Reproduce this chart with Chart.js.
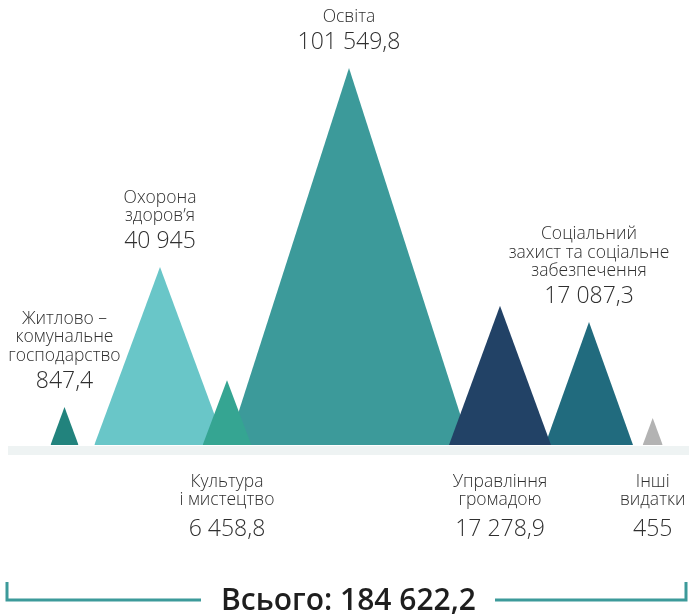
<!DOCTYPE html>
<html lang="uk">
<head>
<meta charset="UTF-8">
<title>Видатки бюджету</title>
<script src="https://cdn.jsdelivr.net/npm/chart.js@4.4.1/dist/chart.umd.min.js"></script>
<style>
  html, body { margin: 0; padding: 0; background: #fff; }
  #wrap { width: 689px; height: 614px; position: relative; }
</style>
</head>
<body>
<div id="wrap"><canvas id="peaks"></canvas></div>
<script>
// categories, left to right
const names = [
  ['Житлово –', 'комунальне', 'господарство'],
  ['Охорона', 'здоров’я'],
  ['Культура', 'і мистецтво'],
  ['Освіта'],
  ['Управління', 'громадою'],
  ['Соціальний', 'захист та соціальне', 'забезпечення'],
  ['Інші', 'видатки']
];
const amounts = [847.4, 40945, 6458.8, 101549.8, 17278.9, 17087.3, 455];
const total = 184622.2;
// peak height of each triangle (Освіта = 100)
const peaks = [10.1, 47.2, 17.2, 100, 36.9, 32.6, 7.2];
// where each triangle stands on the x axis and how wide its half-base is
const centres = [64.5, 160, 227, 349, 500, 589, 652.7];
const halfBase = [14, 65.7, 24.3, 121, 51, 44, 10];
const labelSide = ['top', 'top', 'bottom', 'top', 'bottom', 'top', 'bottom'];
const colours = ['#22837d', '#69c6c8', '#35a592', '#3c9a9a', '#224266', '#216b7e', '#b3b3b3'];
// lower = drawn on top
const zOrder = [1, 5, 2, 7, 3, 6, 1];

function fmt(v) {
  const parts = v.toFixed(1).split('.');
  let int = parts[0].replace(/\B(?=(\d{3})+(?!\d))/g, ' ');
  return parts[1] === '0' ? int : int + ',' + parts[1];
}

const datasets = names.map((n, i) => ({
  label: n.join(' '),
  data: [
    { x: centres[i] - halfBase[i], y: 0 },
    { x: centres[i], y: peaks[i] },
    { x: centres[i] + halfBase[i], y: 0 }
  ],
  backgroundColor: colours[i],
  borderWidth: 0,
  pointRadius: 0,
  tension: 0,
  fill: 'origin',
  order: zOrder[i]
}));

const FONT = '"Open Sans", "Noto Sans", sans-serif';
const TEXT = '#2f2f2f';

const decor = {
  id: 'decor',
  beforeDatasetsDraw(chart) {
    const { ctx, chartArea, scales } = chart;
    const y0 = scales.y.getPixelForValue(0);
    ctx.save();
    ctx.fillStyle = '#eef3f3';
    ctx.fillRect(chartArea.left + 8, y0 + 1, chartArea.right - chartArea.left - 8, 9);
    ctx.restore();
  },
  afterDatasetsDraw(chart) {
    const { ctx, chartArea, scales } = chart;
    const y0 = scales.y.getPixelForValue(0);
    ctx.save();
    ctx.fillStyle = TEXT;
    ctx.textAlign = 'center';
    ctx.textBaseline = 'alphabetic';
    names.forEach((lines, i) => {
      const x = scales.x.getPixelForValue(centres[i]);
      if (labelSide[i] === 'top') {
        const apex = scales.y.getPixelForValue(peaks[i]);
        const numBase = apex - 19;
        ctx.font = '300 23px ' + FONT;
        ctx.fillText(fmt(amounts[i]), x, numBase);
        ctx.font = '300 17.5px ' + FONT;
        let b = numBase - 27;
        for (let k = lines.length - 1; k >= 0; k--) {
          ctx.fillText(lines[k], x, b);
          b -= 18.5;
        }
      } else {
        let b = y0 + 42;
        ctx.font = '300 17.5px ' + FONT;
        lines.forEach(l => { ctx.fillText(l, x, b); b += 17.5; });
        ctx.font = '300 23px ' + FONT;
        ctx.fillText(fmt(amounts[i]), x, b - 17.5 + 31);
      }
    });

    // total with bracket
    const left = chartArea.left + 7, right = chartArea.right - 3;
    const lineY = 600, topY = 582;
    const mid = (chartArea.left + chartArea.right) / 2 + 4;
    ctx.font = '600 30px ' + FONT;
    ctx.fillStyle = '#1e1e1e';
    const label = 'Всього: ' + fmt(total);
    const w = ctx.measureText(label).width;
    ctx.fillText(label, mid, 610);
    ctx.strokeStyle = '#3c9a9a';
    ctx.lineWidth = 3;
    ctx.beginPath();
    ctx.moveTo(left, topY); ctx.lineTo(left, lineY); ctx.lineTo(mid - w / 2 - 20, lineY);
    ctx.moveTo(mid + w / 2 + 19, lineY); ctx.lineTo(right, lineY); ctx.lineTo(right, topY);
    ctx.stroke();
    ctx.restore();
  }
};

new Chart(document.getElementById('peaks'), {
  type: 'line',
  data: { datasets },
  options: {
    responsive: true,
    maintainAspectRatio: false,
    animation: false,
    layout: { padding: 0 },
    plugins: { legend: { display: false }, tooltip: { enabled: false } },
    scales: {
      x: { type: 'linear', min: 0, max: 689, display: false },
      y: { type: 'linear', min: -44.8, max: 118.0, display: false }
    }
  },
  plugins: [decor]
});
</script>
</body>
</html>
